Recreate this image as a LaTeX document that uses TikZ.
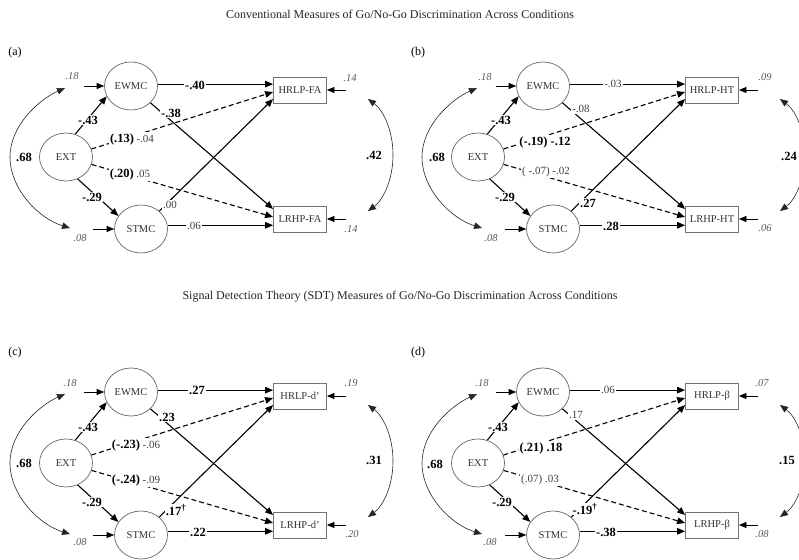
\documentclass[tikz,border=0pt]{standalone}
\usepackage{fontspec}
\setmainfont{Liberation Serif}
\usetikzlibrary{arrows.meta,shapes.geometric,calc}
\newcommand{\bnum}[1]{{\fontsize{12.5}{15}\selectfont\bfseries\color{black}#1}}
\newcommand{\rnum}[1]{{\fontsize{11}{13}\selectfont\color{black!75}#1}}
\newcommand{\drawpanel}[2]{%
  \node[lat] (EW) at (131,86) {EWMC};
  \node[lat] (EX) at (66,157) {EXT};
  \node[lat] (ST) at (141,229) {STMC};
  \node[obs] (HR) at (300,90) {#1};
  \node[obs] (LR) at (300,219) {#2};
  \coordinate (eEW) at (84,86);
  \coordinate (eST) at (93,229);
  \coordinate (eHR) at (346,90);
  \coordinate (eLR) at (346,219);
  \coordinate (cA) at (65,88);
  \coordinate (cM) at (10,157);
  \coordinate (cB) at (70,228);
  \coordinate (cC) at (368,99);
  \coordinate (cN) at (393,155);
  \coordinate (cD) at (368,211);
  \draw[conn] (EX.68) -- (EW.203);
  \draw[conn] (EX.298) -- (ST.150);
  \draw[conn] (EW.4) -- (EW.4 -| HR.west);
  \draw[conn] (EW) -- ($(LR.west)+(0,-10)$);
  \draw[dconn] (EX) -- ($(HR.west)+(0,2)$);
  \draw[dconn] (EX) -- ($(LR.west)+(0,-2)$);
  \draw[conn] (ST) -- ($(HR.west)+(0,9)$);
  \draw[conn] (ST.8) -- (ST.8 -| LR.west);
  \draw[err] (eEW) -- (EW.west);
  \draw[err] (eST) -- (ST.west);
  \draw[err] (eHR) -- (HR.east);
  \draw[err] (eLR) -- (LR.east);
  \draw[cov] (cA) .. controls (40,99) and (10,125) .. (cM)
                  .. controls (10,190) and (40,219) .. (cB);
  \draw[cov] (cC) .. controls (383,110) and (393,130) .. (cN)
                  .. controls (393,180) and (383,200) .. (cD);
}
\begin{document}
\begin{tikzpicture}[x=1pt,y=-1pt,
  lat/.style={ellipse, draw=black!60, line width=0.7pt, minimum width=53pt,
    minimum height=48pt, inner sep=0pt, text=black!80,
    font=\fontsize{10.5}{12}\selectfont},
  obs/.style={rectangle, draw=black!55, line width=0.8pt, minimum width=53pt,
    minimum height=26pt, inner sep=1pt, text=black!80,
    font=\fontsize{10.5}{12}\selectfont},
  conn/.style={line width=1.1pt, -{Triangle[length=8pt,width=6.5pt]}},
  dconn/.style={conn, dash pattern=on 5pt off 3pt},
  err/.style={line width=0.8pt, -{Triangle[length=7.5pt,width=6pt]}},
  cov/.style={line width=0.6pt, black!85,
    {Triangle[length=8pt,width=6.5pt]}-{Triangle[length=8pt,width=6.5pt]}},
  lab/.style={fill=white, inner sep=1pt},
  errl/.style={inner sep=1pt, text=black!65, font=\fontsize{10.5}{12}\selectfont\itshape},
  ttl/.style={inner sep=0pt, text=black!85, font=\fontsize{12}{14}\selectfont},
  plab/.style={inner sep=0pt, font=\fontsize{12}{14}\selectfont}]
\useasboundingbox (0,0) rectangle (799,559);
\clip (0,0) rectangle (799,559);
\fill[white] (0,0) rectangle (799,559);

\node[ttl] (t1) at (400,14) {Conventional Measures of Go/No-Go Discrimination Across Conditions};
\node[ttl] (t2) at (400,297) {Signal Detection Theory (SDT) Measures of Go/No-Go Discrimination Across Conditions};
\node[plab] (pa) at (15,53) {(a)};
\node[plab] (pb) at (418,53) {(b)};
\node[plab] (pc) at (15,353) {(c)};
\node[plab] (pd) at (418,353) {(d)};

% ---------- panel (a)
\begin{scope}[name prefix=a-]
\drawpanel{HRLP-FA}{LRHP-FA}
\node[lab] (n1) at (88,120) {\bnum{-.43}};
\node[lab] (n2) at (92,197) {\bnum{-.29}};
\node[lab] (n3) at (24,157) {\bnum{.68}};
\node[lab] (n4) at (132,139) {\bnum{(.13)} \rnum{-.04}};
\node[lab] (n5) at (130,174) {\bnum{(.20)} \rnum{.05}};
\node[lab] (n6) at (195,85) {\bnum{-.40}};
\node[lab] (n7) at (171,113) {\bnum{-.38}};
\node[lab] (n8) at (170,205) {\rnum{.00}};
\node[lab] (n9) at (194,226) {\rnum{.06}};
\node[lab] (n10) at (374,155) {\bnum{.42}};
\node[errl] (e1) at (72,76) {.18};
\node[errl] (e2) at (80,238) {.08};
\node[errl] (e3) at (350,78) {.14};
\node[errl] (e4) at (351,229) {.14};
\end{scope}

% ---------- panel (b)
\begin{scope}[shift={(412,0)}, name prefix=b-]
\drawpanel{HRLP-HT}{LRHP-HT}
\node[lab] (n1) at (89,120) {\bnum{-.43}};
\node[lab] (n2) at (93,197) {\bnum{-.29}};
\node[lab] (n3) at (25,157) {\bnum{.68}};
\node[lab] (n4) at (133,142) {\bnum{(-.19) -.12}};
\node[lab] (n5) at (134,172) {\rnum{( -.07) -.02}};
\node[lab] (n6) at (201,84) {\rnum{-.03}};
\node[lab] (n7) at (169,109) {\rnum{-.08}};
\node[lab] (n8) at (176,203) {\bnum{.27}};
\node[lab] (n9) at (199,226) {\bnum{.28}};
\node[lab] (n10) at (377,156) {\bnum{.24}};
\node[errl] (e1) at (73,77) {.18};
\node[errl] (e2) at (79,238) {.08};
\node[errl] (e3) at (353,77) {.09};
\node[errl] (e4) at (353,228) {.06};
\end{scope}

% ---------- panel (c)
\begin{scope}[shift={(0,306)}, name prefix=c-]
\drawpanel{HRLP-d’}{LRHP-d’}
\node[lab] (n1) at (88,121) {\bnum{-.43}};
\node[lab] (n2) at (92,196) {\bnum{-.29}};
\node[lab] (n3) at (24,157) {\bnum{.68}};
\node[lab] (n4) at (136,139) {\bnum{(-.23)} \rnum{-.06}};
\node[lab] (n5) at (136,174) {\bnum{(-.24)} \rnum{-.09}};
\node[lab] (n6) at (197,84) {\bnum{.27}};
\node[lab] (n7) at (167,111) {\bnum{.23}};
\node[lab] (n8) at (176,204) {\bnum{.17\textsuperscript{†}}};
\node[lab] (n9) at (198,226) {\bnum{.22}};
\node[lab] (n10) at (374,154) {\bnum{.31}};
\node[errl] (e1) at (70,77) {.18};
\node[errl] (e2) at (80,236) {.08};
\node[errl] (e3) at (351,77) {.19};
\node[errl] (e4) at (352,228) {.20};
\end{scope}

% ---------- panel (d)
\begin{scope}[shift={(412,306)}, name prefix=d-]
\drawpanel{HRLP-β}{LRHP-β}
\node[lab] (n1) at (86,121) {\bnum{-.43}};
\node[lab] (n2) at (90,196) {\bnum{-.29}};
\node[lab] (n3) at (23,158) {\bnum{.68}};
\node[lab] (n4) at (129,142) {\bnum{(.21) .18}};
\node[lab] (n5) at (128,174) {\rnum{(.07) .03}};
\node[lab] (n6) at (196,84) {\rnum{.06}};
\node[lab] (n7) at (164,109) {\rnum{.17}};
\node[lab] (n8) at (173,203) {\bnum{-.19\textsuperscript{†}}};
\node[lab] (n9) at (194,226) {\bnum{-.38}};
\node[lab] (n10) at (375,154) {\bnum{.15}};
\node[errl] (e1) at (70,77) {.18};
\node[errl] (e2) at (78,236) {.08};
\node[errl] (e3) at (350,77) {.07};
\node[errl] (e4) at (350,228) {.08};
\end{scope}
\end{tikzpicture}
\end{document}
